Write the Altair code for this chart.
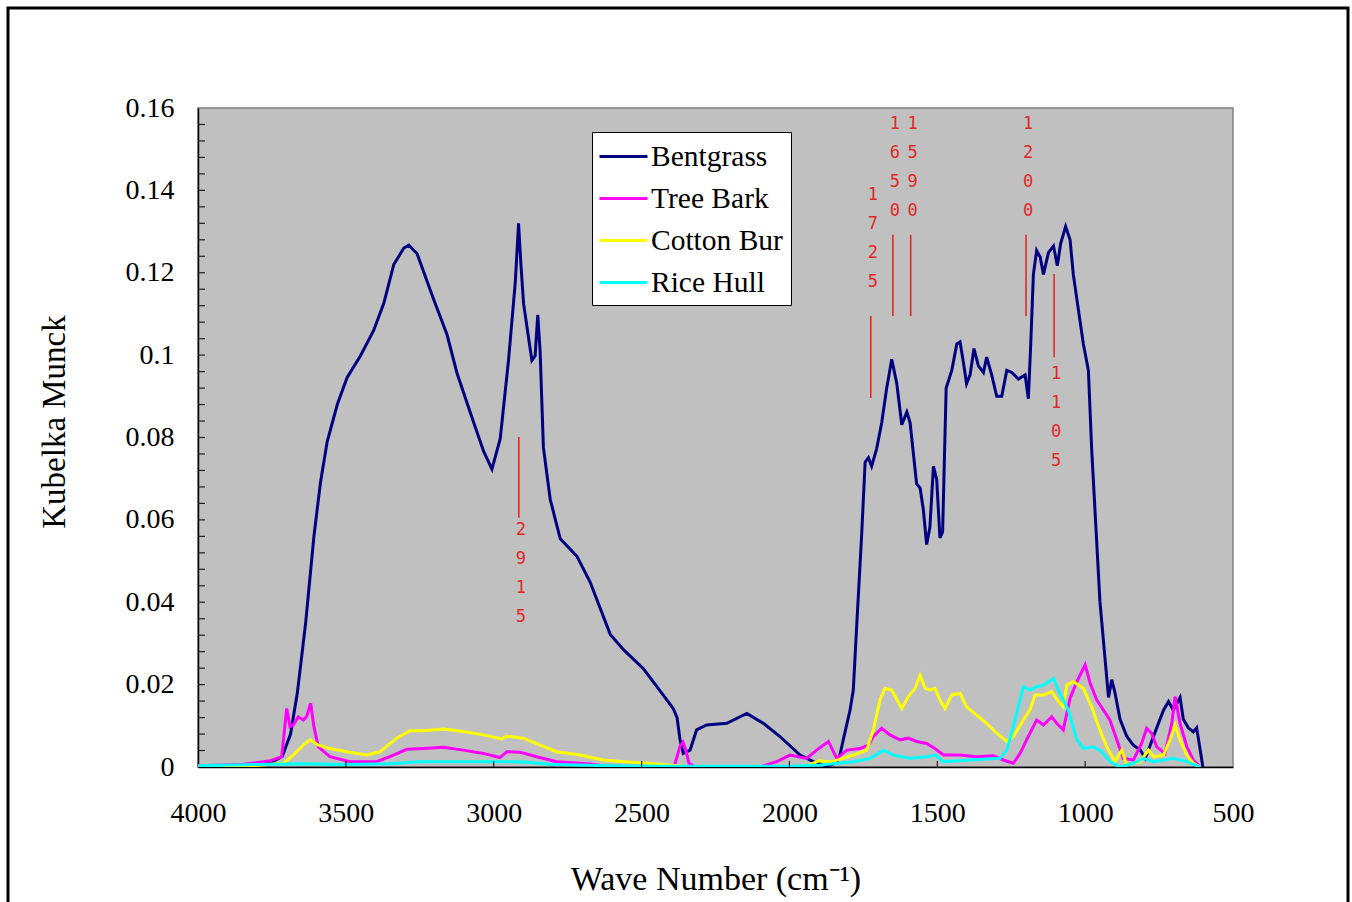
import altair as alt
import pandas as pd

# ---------------- data ----------------
series_names = ["Bentgrass", "Tree Bark", "Cotton Bur", "Rice Hull"]
series_colors = ["#000080", "#FF00FF", "#FFFF00", "#00FFFF"]

bent_wn = [4000, 3900, 3800, 3754, 3715, 3687, 3664, 3636, 3608, 3586, 3563, 3529, 3496, 3451, 3406,
           3372, 3338, 3304, 3287, 3259, 3203, 3158, 3124, 3079, 3034, 3006, 2978, 2950, 2927, 2916,
           2908, 2899, 2871, 2860, 2851, 2843, 2832, 2809, 2775, 2719, 2674, 2606, 2561, 2493, 2426,
           2393, 2380, 2370, 2359, 2336, 2314, 2280, 2212, 2144, 2088, 2032, 1964, 1919, 1874, 1840,
           1829, 1818, 1795, 1784, 1772, 1756, 1744, 1733, 1722, 1705, 1688, 1671, 1654, 1637, 1620,
           1603, 1592, 1570, 1558, 1547, 1536, 1525, 1513, 1502, 1491, 1482, 1470, 1451, 1434, 1423,
           1412, 1401, 1389, 1376, 1361, 1344, 1333, 1316, 1299, 1282, 1265, 1248, 1226, 1203, 1192,
           1184, 1175, 1164, 1152, 1141, 1124, 1107, 1094, 1083, 1066, 1051, 1040, 1023, 1006, 989,
           978, 966, 950, 933, 921, 910, 899, 882, 859, 837, 814, 797, 780, 758, 735, 718, 702, 679,
           668, 651, 634, 623, 611, 602]
bent_km = [0.0, 0.0003, 0.0008, 0.001, 0.0026, 0.008, 0.018, 0.035, 0.056, 0.069, 0.079, 0.088, 0.0945,
           0.0998, 0.106, 0.1125, 0.122, 0.126, 0.1267, 0.1246, 0.1135, 0.105, 0.0956, 0.086, 0.0766,
           0.0723, 0.0797, 0.0987, 0.1177, 0.132, 0.122, 0.1125, 0.0987, 0.0998, 0.1098, 0.1008, 0.0776,
           0.065, 0.0554, 0.0512, 0.0449, 0.0322, 0.0285, 0.0238, 0.0174, 0.0142, 0.012, 0.0066, 0.0033,
           0.0041, 0.009, 0.0102, 0.0106, 0.013, 0.0106, 0.0074, 0.0029, 0.0013, 0.0002, 0.001, 0.003,
           0.0066, 0.0138, 0.0187, 0.035, 0.056, 0.074, 0.0751, 0.073, 0.0773, 0.0836, 0.092, 0.099,
           0.0931, 0.0831, 0.0862, 0.0836, 0.0688, 0.0677, 0.0624, 0.054, 0.0582, 0.073, 0.0698, 0.0556,
           0.0571, 0.092, 0.0963, 0.1027, 0.1032, 0.0984, 0.0931, 0.0952, 0.1016, 0.0974, 0.0958, 0.0995,
           0.0952, 0.09, 0.09, 0.0963, 0.0958, 0.0942, 0.0952, 0.0894, 0.1027, 0.1196, 0.1254, 0.1238,
           0.1196, 0.1249, 0.1265, 0.1217, 0.127, 0.1312, 0.128, 0.1196, 0.1111, 0.1027, 0.0963, 0.0773,
           0.0614, 0.0402, 0.0265, 0.0169, 0.0212, 0.018, 0.0116, 0.0074, 0.0053, 0.0042, 0.0021, 0.0053,
           0.0095, 0.0138, 0.0159, 0.0138, 0.0169, 0.0116, 0.0095, 0.0085, 0.0095, 0.0042, 0.0]

bark_wn = [4000, 3850, 3756, 3717, 3700, 3689, 3678, 3661, 3644, 3633, 3619, 3608, 3593, 3554, 3486,
           3396, 3351, 3294, 3238, 3170, 3103, 3035, 2979, 2956, 2911, 2855, 2787, 2674, 2618, 2500,
           2390, 2370, 2360, 2350, 2340, 2320, 2100, 2043, 1998, 1942, 1908, 1868, 1840, 1806, 1761,
           1733, 1716, 1688, 1660, 1626, 1598, 1570, 1536, 1508, 1479, 1423, 1367, 1310, 1277, 1243,
           1220, 1198, 1164, 1141, 1113, 1096, 1074, 1051, 1028, 1000, 983, 961, 938, 916, 893, 871,
           837, 809, 792, 775, 758, 730, 707, 696, 679, 656, 634, 611]
bark_km = [0.0003, 0.0006, 0.0015, 0.0025, 0.0142, 0.0098, 0.0102, 0.0122, 0.0114, 0.0122, 0.0155,
           0.0098, 0.0049, 0.0025, 0.0013, 0.0013, 0.0025, 0.0043, 0.0045, 0.0048, 0.0041, 0.0033,
           0.0023, 0.0037, 0.0036, 0.0025, 0.0013, 0.0007, 0.0002, 0.0002, 0.0, 0.005, 0.006, 0.004,
           0.001, 0.0, 0.0, 0.0013, 0.0029, 0.0021, 0.0041, 0.0062, 0.0021, 0.0041, 0.0045, 0.0053,
           0.0074, 0.0094, 0.0078, 0.0066, 0.007, 0.0062, 0.0057, 0.0045, 0.0029, 0.0029, 0.0025,
           0.0027, 0.0017, 0.0009, 0.0033, 0.0066, 0.0114, 0.0102, 0.0122, 0.0106, 0.009, 0.0167,
           0.0207, 0.0248, 0.0203, 0.0163, 0.0138, 0.0114, 0.0066, 0.0021, 0.0017, 0.0057, 0.0094,
           0.0082, 0.0049, 0.0033, 0.0106, 0.0171, 0.0106, 0.0049, 0.0017, 0.0]

cotton_wn = [4000, 3835, 3711, 3678, 3644, 3621, 3593, 3554, 3497, 3430, 3385, 3328, 3283, 3238, 3170,
             3103, 3035, 2973, 2956, 2900, 2843, 2787, 2708, 2629, 2562, 2449, 2359, 2250, 1950, 1900,
             1860, 1829, 1784, 1739, 1716, 1694, 1677, 1654, 1620, 1598, 1575, 1558, 1541, 1525, 1508,
             1491, 1474, 1451, 1423, 1401, 1367, 1333, 1299, 1265, 1243, 1209, 1187, 1169, 1141, 1113,
             1090, 1074, 1062, 1040, 1006, 978, 950, 927, 899, 876, 859, 814, 786, 769, 735, 713, 696,
             679, 656, 634, 611]
cotton_km = [0.0, 0.0002, 0.0009, 0.0029, 0.0053, 0.0066, 0.0053, 0.0045, 0.0037, 0.0029, 0.0037, 0.007,
             0.0088, 0.0088, 0.0092, 0.0086, 0.0078, 0.0068, 0.0075, 0.007, 0.0053, 0.0037, 0.0029,
             0.0017, 0.0013, 0.0007, 0.0002, 0.0, 0.0, 0.0015, 0.0012, 0.0019, 0.0029, 0.0041, 0.009,
             0.0163, 0.0191, 0.0187, 0.0142, 0.0171, 0.0191, 0.0223, 0.0191, 0.0187, 0.0191, 0.0163,
             0.0142, 0.0175, 0.0179, 0.0146, 0.0126, 0.0106, 0.0082, 0.0062, 0.0074, 0.0114, 0.0138,
             0.0175, 0.0175, 0.0183, 0.0159, 0.0146, 0.0199, 0.0207, 0.0191, 0.0146, 0.009, 0.0049,
             0.0013, 0.0041, 0.0005, 0.0013, 0.0041, 0.0025, 0.0029, 0.0066, 0.0102, 0.0066, 0.0029,
             0.0009, 0.0]

rice_wn = [4000, 3800, 3650, 3500, 3350, 3250, 3000, 2900, 2800, 2600, 2400, 2000, 1896, 1784, 1727,
           1682, 1649, 1592, 1536, 1508, 1479, 1389, 1288, 1265, 1243, 1220, 1209, 1187, 1164, 1141,
           1107, 1085, 1057, 1028, 1006, 972, 944, 916, 882, 837, 803, 769, 702, 656, 611]
rice_km = [0.0003, 0.0006, 0.0008, 0.0006, 0.0008, 0.0013, 0.0013, 0.0012, 0.0006, 0.0003, 0.0002,
           0.0002, 0.0005, 0.0013, 0.0021, 0.0041, 0.0029, 0.0021, 0.0025, 0.0029, 0.0013, 0.0017,
           0.0021, 0.0041, 0.0098, 0.0163, 0.0195, 0.0187, 0.0195, 0.0199, 0.0215, 0.0179, 0.0138,
           0.0066, 0.0045, 0.0049, 0.0037, 0.0013, 0.0, 0.0009, 0.0021, 0.0013, 0.0021, 0.0013, 0.0]

# red band markers
ann_wn = [2915, 1725, 1650, 1590, 1200, 1105]
ann_label = ["2915", "1725", "1650", "1590", "1200", "1105"]
ann_line_top = [0.0801, 0.1095, 0.1292, 0.1292, 0.1292, 0.1197]
ann_line_bottom = [0.0605, 0.0896, 0.1095, 0.1095, 0.1095, 0.0995]
ann_text_top = [0.0594, 0.1408, 0.1580, 0.1580, 0.1580, 0.0973]

x_tick_values = [4000, 3500, 3000, 2500, 2000, 1500, 1000, 500]
y_tick_values = [0, 0.02, 0.04, 0.06, 0.08, 0.1, 0.12, 0.14, 0.16]
y_minor_ticks = [round(i * 0.004, 3) for i in range(1, 40)]

# ---------------- build tables ----------------
rows = []
for k, (name, wns, vals) in enumerate(zip(series_names,
                                          [bent_wn, bark_wn, cotton_wn, rice_wn],
                                          [bent_km, bark_km, cotton_km, rice_km])):
    for w, v in zip(wns, vals):
        rows.append({"wn": w, "km": v, "series": name, "k": k})
df = pd.DataFrame(rows)

ann_df = pd.DataFrame({
    "wn": ann_wn,
    "km": ann_line_top,
    "bottom": ann_line_bottom,
    "ttop": ann_text_top,
    "label": ["\n".join(list(s)) for s in ann_label],
})
ytick_df = pd.DataFrame({"km": y_minor_ticks})
xtick_df = pd.DataFrame({"wn": x_tick_values[1:-1]})
frame_df = pd.DataFrame({"a": [0]})

SERIF = "Liberation Serif"
x_scale = alt.Scale(domain=[4000, 500], nice=False, zero=False)
y_scale = alt.Scale(domain=[0, 0.16], nice=False)

x_axis = alt.Axis(values=x_tick_values, title="Wave Number (cm⁻¹)", format="d",
                  labelFont=SERIF, labelFontSize=28, labelColor="black",
                  labelBaseline="alphabetic", labelPadding=54, ticks=False, tickSize=0,
                  grid=False, domainColor="black", domainWidth=1.5, labelFlush=False,
                  titleFont=SERIF, titleFontSize=34, titleFontWeight="normal",
                  titleColor="black", titleY=122, titleBaseline="alphabetic")
y_axis = alt.Axis(values=y_tick_values, title="Kubelka Munck", format="~g",
                  labelFont=SERIF, labelFontSize=28, labelColor="black",
                  labelPadding=24, ticks=False, tickSize=0, grid=False, labelFlush=False,
                  domainColor="black", domainWidth=1.5,
                  titleFont=SERIF, titleFontSize=33, titleFontWeight="normal",
                  titleColor="black", titleX=-134, titleY=313.5,
                  titleAlign="center", titleBaseline="alphabetic", titleAngle=270)

X = lambda f: alt.X(f, scale=x_scale, axis=x_axis)
Y = lambda f: alt.Y(f, scale=y_scale, axis=y_axis)

lines = alt.Chart(df).mark_line(strokeWidth=3, clip=True).encode(
    x=X("wn:Q"),
    y=Y("km:Q"),
    color=alt.Color("series:N",
                    scale=alt.Scale(domain=series_names, range=series_colors),
                    legend=alt.Legend(orient="none", legendX=394, legendY=24, title=None,
                                      symbolType="M-1.6,0H1.6", symbolStrokeWidth=3,
                                      symbolSize=900, symbolOffset=7,
                                      labelFont=SERIF, labelFontSize=29.5, labelColor="black",
                                      labelOffset=11, fillColor="white", strokeColor="black",
                                      padding=8, rowPadding=11)),
    detail="series:N",
    order=alt.Order("wn:Q"),
)

frame = alt.Chart(frame_df).mark_rect(fillOpacity=0, stroke="black", strokeWidth=3).encode(
    x=alt.value(-190), x2=alt.value(1150), y=alt.value(-100), y2=alt.value(810)
)

yticks = alt.Chart(ytick_df).mark_rule(color="#202020", strokeWidth=1.2).encode(
    y=Y("km:Q"),
    x=alt.value(0), x2=alt.value(7),
)
xticks = alt.Chart(xtick_df).mark_rule(color="#202020", strokeWidth=1.2).encode(
    x=X("wn:Q"),
    y=alt.value(659), y2=alt.value(653),
)

ann_rules = alt.Chart(ann_df).mark_rule(color="#E02020", strokeWidth=1.5).encode(
    x=X("wn:Q"),
    y=Y("km:Q"),
    y2="bottom:Q",
)
ann_text = alt.Chart(ann_df).mark_text(
    color="#E02828", font="DejaVu Sans Mono", fontSize=17, lineBreak="\n", lineHeight=29,
    baseline="top", align="center", dx=2
).encode(
    x=X("wn:Q"),
    y=alt.Y("ttop:Q", scale=y_scale, axis=y_axis),
    text="label:N",
)

chart = alt.layer(lines, yticks, xticks, ann_rules, ann_text, frame).properties(
    width=1035, height=659,
    padding={"left": 198, "top": 108, "right": 119, "bottom": 135},
    autosize=alt.AutoSizeParams(type="none"),
    background="white",
).configure_view(fill="#C0C0C0", stroke="#808080", strokeWidth=1.5)

chart.save("out.html", embed_options={"renderer": "svg", "actions": False})
